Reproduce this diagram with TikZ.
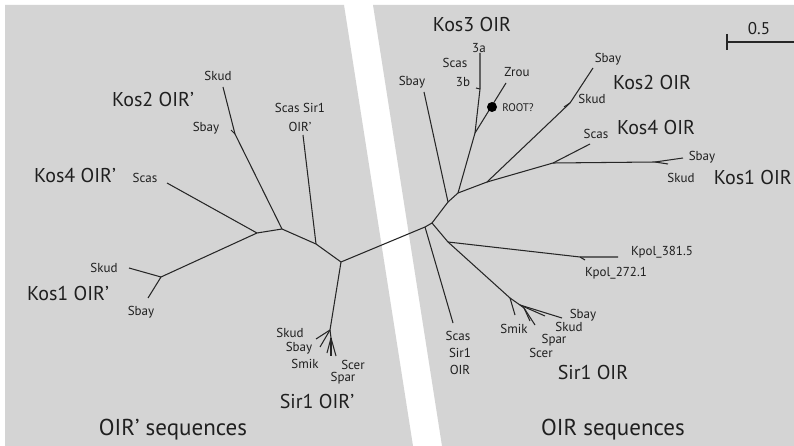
\documentclass[tikz,border=0pt]{standalone}
\usepackage{fontspec}
\setmainfont{PT Sans}
\definecolor{panelgrey}{HTML}{D4D4D4}
\definecolor{inkline}{HTML}{262626}
\tikzset{
  branch/.style={draw=inkline, line width=1.05pt, line join=round},
  lbl/.style={inner sep=0pt, font=\fontsize{13}{15}\selectfont, text=black!88},
  clade/.style={inner sep=0pt, font=\fontsize{20}{22}\selectfont, text=black!88},
  heading/.style={inner sep=0pt, font=\fontsize{23}{25}\selectfont, text=black!88},
  tiny/.style={inner sep=0pt, font=\fontsize{11}{12}\selectfont, text=black!88},
  panel/.style={fill=panelgrey}
}
\begin{document}
\begin{tikzpicture}[x=1pt,y=-1pt]
\useasboundingbox (0,0) rectangle (794,446);
\fill[white] (0,0) rectangle (794,446);
% two grey panels split by a slanted white band
\fill[panel] (5,5) -- (344,5) -- (413,446) -- (5,446) -- cycle;
\fill[panel] (373,5) -- (794,5) -- (794,446) -- (442,446) -- cycle;

% ---------- OIR' tree (left) ----------
\coordinate (E) at (161,277);
\coordinate (A) at (257,233);
\coordinate (B) at (282,229);
\coordinate (C) at (316,244);
\coordinate (D) at (341,262);
\coordinate (k1skud) at (129,268);
\coordinate (k1sbay) at (148,298);
\coordinate (k4scas) at (167,183);
\coordinate (J2) at (235,134);
\coordinate (k2skud) at (223,87);
\coordinate (k2sbay) at (231,130);
\coordinate (s1scas) at (303,135);
\coordinate (F) at (330,330);
\coordinate (F2) at (331,338);
\coordinate (f1) at (316,339);
\coordinate (f2) at (320,347);
\coordinate (f3) at (327,353);
\coordinate (f4) at (331,356);
\coordinate (f5) at (336,356);

\draw[branch] (k1skud) -- (E) -- (k1sbay);
\draw[branch] (E) -- (A) -- (B) -- (C) -- (D);
\draw[branch] (A) -- (k4scas);
\draw[branch] (B) -- (J2) -- (k2skud);
\draw[branch] (J2) -- (k2sbay);
\draw[branch] (C) -- (s1scas);
\draw[branch] (D) -- (F) -- (F2);
\draw[branch] (F) -- (f1);
\draw[branch] (F) -- (f2);
\draw[branch] (F2) -- (f3);
\draw[branch] (F2) -- (f4);
\draw[branch] (F2) -- (f5);

% ---------- connection between the two trees ----------
\coordinate (R0) at (425,227);
\coordinate (R) at (432,223);
\draw[branch] (D) -- (R0) -- (R);

% ---------- OIR tree (right) ----------
\coordinate (s1scasR) at (453,323);
\coordinate (N1) at (448,202);
\coordinate (sbayR) at (424,92);
\coordinate (N2) at (458,193);
\coordinate (N3) at (475,133);
\coordinate (K3) at (480,89);
\coordinate (k3a) at (480,53);
\coordinate (k3b) at (476,88);
\coordinate (zrou) at (506,83);
\coordinate (N4) at (487,182);
\coordinate (J4) at (570,103);
\coordinate (k2sbayR) at (593,68);
\coordinate (k2skudR) at (564,107);
\coordinate (N5) at (553,163);
\coordinate (k4scasR) at (590,144);
\coordinate (N6) at (655,162);
\coordinate (k1sbayR) at (683,158);
\coordinate (k1skudR) at (668,164);
\coordinate (N7) at (448,242);
\coordinate (N8) at (580,257);
\coordinate (kp381) at (618,257);
\coordinate (kp272) at (585,260);
\coordinate (N9) at (510,298);
\coordinate (smikR) at (515,315);
\coordinate (N10) at (520,305);
\coordinate (sbayS) at (562,318);
\coordinate (skudS) at (545,316);
\coordinate (N11) at (524,308);
\coordinate (sparS) at (535,325);
\coordinate (scerS) at (530,321);

\draw[branch] (R0) -- (s1scasR);
\draw[branch] (R) -- (N1) -- (sbayR);
\draw[branch] (N1) -- (N2) -- (N3) -- (K3) -- (k3a);
\draw[branch] (K3) -- (k3b);
\draw[branch] (N3) -- (zrou);
\draw[branch] (N2) -- (N4) -- (J4) -- (k2sbayR);
\draw[branch] (J4) -- (k2skudR);
\draw[branch] (N4) -- (N5) -- (k4scasR);
\draw[branch] (N5) -- (N6) -- (k1sbayR);
\draw[branch] (N6) -- (k1skudR);
\draw[branch] (R) -- (N7) -- (N8) -- (kp381);
\draw[branch] (N8) -- (kp272);
\draw[branch] (N7) -- (N9) -- (smikR);
\draw[branch] (N9) -- (N10) -- (sbayS);
\draw[branch] (N10) -- (skudS);
\draw[branch] (N10) -- (N11) -- (sparS);
\draw[branch] (N11) -- (scerS);
\node[circle, fill=black, inner sep=0pt, minimum size=10pt] (root) at (492,107) {};

% scale bar
\coordinate (sb0) at (727,42);
\coordinate (sb1) at (794,42);
\coordinate (sbt) at (727,34);
\coordinate (sbb) at (727,50);
\draw[branch] (sb0) -- (sb1);
\draw[branch] (sbt) -- (sbb);
\node[lbl, font=\fontsize{17}{19}\selectfont] (scale) at (759,29) {0.5};

% ---------- labels, left ----------
\node[lbl] (t1) at (218,76) {Skud};
\node[clade] (t2) at (153,100) {Kos2 OIR’};
\node[lbl] (t3) at (206,128) {Sbay};
\node[lbl] (t4) at (300,108) {Scas Sir1};
\node[lbl] (t5) at (300,127) {OIR’};
\node[clade] (t6) at (75,176) {Kos4 OIR’};
\node[lbl] (t7) at (145,178) {Scas};
\node[lbl] (t8) at (104,268) {Skud};
\node[clade] (t9) at (68,293) {Kos1 OIR’};
\node[lbl] (t10) at (141,312) {Sbay};
\node[lbl] (t11) at (290,333) {Skud};
\node[lbl] (t12) at (299,348) {Sbay};
\node[lbl] (t13) at (305,364) {Smik};
\node[lbl] (t14) at (353,365) {Scer};
\node[lbl] (t15) at (343,378) {Spar};
\node[clade] (t16) at (317,401) {Sir1 OIR’};
\node[heading] (t17) at (173,430) {OIR’ sequences};

% ---------- labels, right ----------
\node[clade] (u1) at (472,25) {Kos3 OIR};
\node[lbl] (u2) at (479,48) {3a};
\node[lbl] (u3) at (455,63) {Scas};
\node[lbl] (u4) at (463,82) {3b};
\node[lbl] (u5) at (412,82) {Sbay};
\node[lbl] (u6) at (517,72) {Zrou};
\node[tiny] (u7) at (518,108) {ROOT?};
\node[lbl] (u8) at (608,59) {Sbay};
\node[clade] (u9) at (652,83) {Kos2 OIR};
\node[lbl] (u10) at (592,99) {Skud};
\node[lbl] (u11) at (596,134) {Scas};
\node[clade] (u12) at (656,128) {Kos4 OIR};
\node[lbl] (u13) at (702,157) {Sbay};
\node[lbl] (u14) at (681,178) {Skud};
\node[clade, anchor=east] (u15) at (792,178) {Kos1 OIR};
\node[lbl] (u16) at (662,252) {Kpol\_381.5};
\node[lbl] (u17) at (616,273) {Kpol\_272.1};
\node[lbl] (u18) at (458,336) {Scas};
\node[lbl] (u19) at (460,353) {Sir1};
\node[lbl] (u20) at (460,370) {OIR};
\node[lbl] (u21) at (583,315) {Sbay};
\node[lbl] (u22) at (569,327) {Skud};
\node[lbl] (u23) at (554,340) {Spar};
\node[lbl] (u24) at (541,353) {Scer};
\node[lbl] (u25) at (514,329) {Smik};
\node[clade] (u26) at (593,372) {Sir1 OIR};
\node[heading] (u27) at (613,430) {OIR sequences};
\end{tikzpicture}
\end{document}
